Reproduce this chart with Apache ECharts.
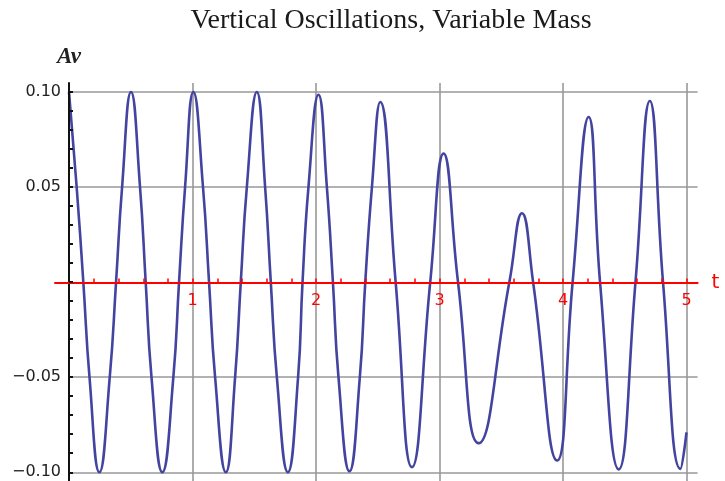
<!DOCTYPE html>
<html><head><meta charset="utf-8">
<script src="https://cdn.jsdelivr.net/npm/echarts@6/dist/echarts.min.js"></script>
<style>html,body{margin:0;padding:0;background:#fff}#c{width:725px;height:481px}</style>
</head><body><div id="c"></div>
<script>
const chartTitle = 'Vertical Oscillations, Variable Mass';
const xName = 't';
const yName = 'Av';
// curve readings (t, Av): extremes, zero crossings and ±0.05 gridline crossings
const tValues = [
  0, 0.062, 0.116, 0.166, 0.246, 0.330, 0.381, 0.430, 0.502, 0.575,
  0.621, 0.668, 0.756, 0.845, 0.891, 0.940, 1.007, 1.085, 1.134, 1.183,
  1.270, 1.345, 1.391, 1.440, 1.521, 1.588, 1.634, 1.683, 1.772, 1.855,
  1.891, 1.939, 2.020, 2.088, 2.137, 2.182, 2.271, 2.355, 2.399, 2.453,
  2.520, 2.645, 2.777, 2.925, 3.033, 3.150, 3.317, 3.566, 3.668, 3.758,
  3.952, 4.078, 4.208, 4.300, 4.451, 4.587, 4.703, 4.810, 4.951, 5.000
];
const avValues = [
  0.100, 0.050, 0, -0.050, -0.100, -0.050, 0, 0.050, 0.100, 0.050,
  0, -0.050, -0.100, -0.050, 0, 0.050, 0.100, 0.050, 0, -0.050,
  -0.100, -0.050, 0, 0.050, 0.100, 0.050, 0, -0.050, -0.100, -0.050,
  0, 0.050, 0.0985, 0.050, 0, -0.050, -0.0995, -0.050, 0, 0.050,
  0.0947, 0, -0.0973, 0, 0.0676, 0, -0.0847, 0, 0.0362, 0,
  -0.0938, 0, 0.0868, 0, -0.0985, 0, 0.0952, 0, -0.0982, -0.079
];
const xLabelValues = [1, 2, 3, 4, 5];
const xTickValues = [0.2, 0.4, 0.6, 0.8, 1, 1.2, 1.4, 1.6, 1.8, 2, 2.2, 2.4, 2.6, 2.8, 3,
  3.2, 3.4, 3.6, 3.8, 4, 4.2, 4.4, 4.6, 4.8, 5];
const yLabelValues = [-0.1, -0.05, 0.05, 0.1];
const yTickValues = [-0.1, -0.09, -0.08, -0.07, -0.06, -0.05, -0.04, -0.03, -0.02, -0.01, 0,
  0.01, 0.02, 0.03, 0.04, 0.05, 0.06, 0.07, 0.08, 0.09, 0.1];
const yGridValues = [-0.1, -0.05, 0.05, 0.1];
const xMax = 5.09;
const xAxisLeftOverhang = -0.115;
const yRange = [-0.1046, 0.1047];

const chart = echarts.init(document.getElementById('c'), null, {renderer: 'canvas'});
const curve = tValues.map((t, i) => [t, avValues[i]]);
const gridLines = yGridValues.map(v => [{coord: [0, v]}, {coord: [xMax, v]}]);

chart.setOption({
  animation: false,
  backgroundColor: '#ffffff',
  title: {
    text: chartTitle, left: 391, top: 7, padding: 0, textAlign: 'center',
    textStyle: {fontFamily: 'Liberation Serif', fontSize: 28, fontWeight: 'normal', color: '#1a1a1a'}
  },
  grid: [
    {left: 69, right: 27.4, top: 83, bottom: 0, containLabel: false, outerBoundsMode: 'none'},
    {left: 55, right: 27.4, top: 83, height: 199.5, containLabel: false, outerBoundsMode: 'none'}
  ],
  xAxis: [{
    gridIndex: 0, type: 'value', min: 0, max: xMax, interval: 1,
    axisLine: {show: false}, axisTick: {show: false}, axisLabel: {show: false},
    splitLine: {show: true, showMinLine: false, showMaxLine: false, lineStyle: {color: '#999999', width: 1.6}}
  }, {
    gridIndex: 1, type: 'value', min: xAxisLeftOverhang, max: xMax, position: 'bottom', z: 10,
    name: xName, nameLocation: 'end', nameGap: 14,
    nameTextStyle: {color: '#ff0000', fontFamily: 'DejaVu Sans', fontSize: 20, verticalAlign: 'middle', padding: [0, 0, 2, 0]},
    axisLine: {show: true, onZero: false, lineStyle: {color: '#ff0000', width: 2}},
    axisTick: {show: true, inside: true, length: 4, customValues: xTickValues, lineStyle: {color: '#ff0000', width: 1.5}},
    axisLabel: {show: true, customValues: xLabelValues, margin: 10, color: '#ff0000',
      fontFamily: 'DejaVu Sans', fontSize: 16, formatter: v => String(v)},
    splitLine: {show: false}
  }],
  yAxis: [{
    gridIndex: 0, type: 'value', min: yRange[0], max: yRange[1], z: 10,
    name: yName, nameLocation: 'end', nameGap: 14,
    nameTextStyle: {color: '#222222', fontFamily: 'Liberation Serif', fontStyle: 'italic', fontWeight: 'bold', fontSize: 23, align: 'center'},
    axisLine: {show: true, onZero: false, lineStyle: {color: '#111111', width: 2}},
    axisTick: {show: true, inside: true, length: 4, customValues: yTickValues, lineStyle: {color: '#111111', width: 2}},
    axisLabel: {show: true, customValues: yLabelValues, margin: 8, color: '#222222',
      fontFamily: 'DejaVu Sans', fontSize: 16, formatter: v => (v < 0 ? '\u2212' : '') + Math.abs(v).toFixed(2)},
    splitLine: {show: false}
  }, {
    gridIndex: 1, type: 'value', min: 0, max: 1, show: false
  }],
  series: [{
    type: 'line', xAxisIndex: 0, yAxisIndex: 0, data: curve, smooth: 0.5, showSymbol: false, silent: true, clip: true,
    lineStyle: {color: '#4343a0', width: 2.6},
    z: 5,
    markLine: {
      silent: true, symbol: 'none', label: {show: false},
      lineStyle: {color: '#999999', width: 1.6, type: 'solid'},
      data: gridLines, z: 1
    }
  }]
});
</script>
</body></html>
